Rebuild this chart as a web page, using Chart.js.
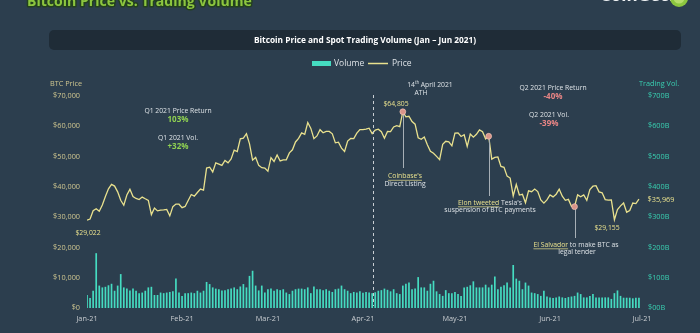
<!DOCTYPE html>
<html><head><meta charset="utf-8">
<script src="https://cdn.jsdelivr.net/npm/chart.js@4"></script>
<style>
html,body{margin:0;padding:0;background:#2c3e4e;overflow:hidden}
canvas{display:block}
</style></head>
<body>
<canvas id="c" width="700" height="333"></canvas>
<script>
// Daily BTC price (USD), 1 Jan 2021 .. 30 Jun 2021
const priceValues = [
29022,29374,32127,32782,31971,33992,36824,39371,40797,40254,38356,35566,33922,37316,39187,36825,36178,35792,36630,36070,35548,30825,33005,32067,32289,32367,32569,30432,33467,34316,34269,
33114,33538,35510,37472,36926,38144,39266,38903,46196,46481,44918,47909,47504,47105,48717,47945,49199,52149,51679,55888,56099,57539,54207,48824,49705,47093,46339,46188,
45137,49631,48378,50538,48561,48927,48912,51206,52246,54824,56008,57805,57332,61243,59302,55907,56804,58870,57858,58346,58313,57523,54529,54738,52774,51704,55137,55973,55950,57750,58917,
58918,59095,59384,57603,58758,59057,58192,56048,58323,58245,59793,60204,59893,64805,63109,63314,61572,60683,56216,55724,56473,53906,51762,51093,50050,49004,54021,55033,54824,53555,
57750,57828,56631,57200,53333,57424,56396,57356,58803,58232,55859,56704,49150,49716,49880,46760,46456,43537,42909,37002,40782,37304,37536,34771,38705,38402,39294,38436,35697,34616,35678,
37332,36684,37575,39208,36894,35551,35862,33560,33472,37345,36702,37334,35552,39097,40218,40406,38347,38053,35787,35615,35698,29155,32505,33723,34662,31637,32186,34650,34494,35969
];
// Daily spot trading volume (USD billions)
const volumeValues = [
43,33,57,181,74,68,70,75,80,57,74,112,68,64,58,64,57,49,51,57,68,70,43,43,51,49,51,53,55,97,51,
40,49,49,51,49,57,51,57,86,79,68,64,62,58,59,62,64,68,62,71,79,68,106,123,74,58,74,51,
62,64,57,62,59,62,51,46,57,62,64,64,62,68,49,71,62,62,59,62,57,53,62,64,74,62,57,49,53,51,55,
50,53,51,49,52,57,59,64,60,55,62,49,46,74,80,84,62,64,102,68,68,57,80,90,55,46,40,59,49,49,
53,46,40,68,70,75,88,68,68,68,77,68,77,104,62,70,75,84,68,142,97,90,62,84,74,51,49,46,40,57,38,
35,33,35,38,35,33,36,38,40,51,46,35,35,40,46,35,35,35,35,35,30,49,58,40,34,34,34,32,34,34
];
const monthTickDays = [0,31,59,90,120,151,181];
const monthTickLabels = ['Jan-21','Feb-21','Mar-21','Apr-21','May-21','Jun-21','Jul-21'];
const priceTicks = [0,10000,20000,30000,40000,50000,60000,70000];
const volumeTicks = [0,100,200,300,400,500,600,700];
const eventDays = [103,131,159];
const quarterDividerDay = 93.3;

const FONT = '"Open Sans", "Noto Sans", sans-serif';
const BG = '#2c3e4e';
const PRICE_C = '#e9e18e';
const VOL_C = '#45dcc1';
const AXL_C = '#cfc690';
const AXR_C = '#39cfb1';
const GREEN = '#8fd152';
const RED = '#e98585';
const TXT = '#dde2e6';

function txt(ctx, s, x, y, color, size, weight, align){
  ctx.font = (weight||'normal') + ' ' + size + 'px ' + FONT;
  ctx.fillStyle = color; ctx.textAlign = align||'center'; ctx.textBaseline = 'middle';
  ctx.fillText(s, x, y);
}

const deco = {
  id:'deco',
  beforeDraw(chart){
    const ctx = chart.ctx;
    ctx.save();
    ctx.fillStyle = BG; ctx.fillRect(0,0,chart.width,chart.height);
    // main title (partially cut at top)
    const title = 'Bitcoin Price vs. Trading Volume';
    let fs = 20;
    ctx.font = 'bold ' + fs + 'px ' + FONT;
    fs = fs * 225 / ctx.measureText(title).width;
    ctx.font = 'bold ' + fs + 'px ' + FONT;
    ctx.textAlign='left'; ctx.textBaseline='alphabetic';
    ctx.lineWidth = 3; ctx.strokeStyle = '#23401f'; ctx.lineJoin='round';
    ctx.strokeText(title, 27, 6);
    ctx.fillStyle = '#8cc63f'; ctx.fillText(title, 27, 6);
    // logo
    ctx.font = 'bold 17px ' + FONT; ctx.fillStyle = '#eef1f3';
    ctx.fillText('CoinGecko', 600, 1);
    ctx.beginPath(); ctx.arc(679,-2,9,0,Math.PI*2); ctx.fillStyle='#8cc63f'; ctx.fill();
    ctx.beginPath(); ctx.arc(679,-2,5.5,0,Math.PI*2); ctx.fillStyle='#b5dd6a'; ctx.fill();
    // header bar
    ctx.beginPath(); ctx.roundRect(49,30,632,20,5); ctx.fillStyle='#1f2c37'; ctx.fill();
    txt(ctx,'Bitcoin Price and Spot Trading Volume (Jan \u2013 Jun 2021)',365,40.5,'#ffffff',8.3,'bold');
    // legend
    ctx.fillStyle = VOL_C; ctx.fillRect(312,61,19,5);
    txt(ctx,'Volume',334,63.5,TXT,8.5,'normal','left');
    ctx.strokeStyle = PRICE_C; ctx.lineWidth = 1.5;
    ctx.beginPath(); ctx.moveTo(368,63.5); ctx.lineTo(388,63.5); ctx.stroke();
    txt(ctx,'Price',392,63.5,TXT,8.5,'normal','left');
    // axis titles
    txt(ctx,'BTC Price',66,83.5,AXL_C,7.3);
    txt(ctx,'Trading Vol.',659,84,AXR_C,7.3);
    ctx.restore();
  },
  afterDatasetsDraw(chart){
    const ctx = chart.ctx, xs = chart.scales.x, ys = chart.scales.y;
    ctx.save();
    // quarter divider
    const dx = Math.round(xs.getPixelForValue(quarterDividerDay))+0.5;
    ctx.strokeStyle = '#c9ced3'; ctx.lineWidth = 1; ctx.setLineDash([3,3]);
    ctx.beginPath(); ctx.moveTo(dx,95); ctx.lineTo(dx,306); ctx.stroke();
    ctx.setLineDash([]);
    // event stems + circles
    const stemEnd = [168,196,238];
    eventDays.forEach((d,i)=>{
      const px = xs.getPixelForValue(d), py = ys.getPixelForValue(priceValues[d]);
      ctx.strokeStyle = '#a7afb6'; ctx.lineWidth = 1;
      ctx.beginPath(); ctx.moveTo(Math.round(px)+0.5,py); ctx.lineTo(Math.round(px)+0.5,stemEnd[i]); ctx.stroke();
      ctx.beginPath(); ctx.arc(px,py,2.9,0,Math.PI*2);
      ctx.fillStyle = '#d99489'; ctx.fill();
      ctx.strokeStyle = '#f2c4b6'; ctx.lineWidth = 0.7; ctx.stroke();
    });
    // annotations
    txt(ctx,'Q1 2021 Price Return',178,111,TXT,6.8);
    txt(ctx,'103%',178,119.5,GREEN,8,'bold');
    txt(ctx,'Q1 2021 Vol.',178,138,TXT,6.8);
    txt(ctx,'+32%',178,146.5,GREEN,8,'bold');
    txt(ctx,'14',415,85,TXT,6.8,'normal','right');
    txt(ctx,'th',415,82.5,TXT,4.5,'normal','left');
    txt(ctx,' April 2021',419,85,TXT,6.8,'normal','left');
    txt(ctx,'ATH',421,93,TXT,6.8);
    txt(ctx,'$64,805',396,104,PRICE_C,6.8);
    txt(ctx,'Q2 2021 Price Return',553,88,TXT,6.8);
    txt(ctx,'-40%',553,96.5,RED,8,'bold');
    txt(ctx,'Q2 2021 Vol.',549,115,TXT,6.8);
    txt(ctx,'-39%',549,123.5,RED,8,'bold');
    const ul = (s,x,y,size)=>{
      ctx.font = 'normal '+size+'px '+FONT; const w = ctx.measureText(s).width;
      txt(ctx,s,x,y,PRICE_C,size,'normal','left');
      ctx.strokeStyle = PRICE_C; ctx.lineWidth = 0.7;
      ctx.beginPath(); ctx.moveTo(x,y+3.8); ctx.lineTo(x+w,y+3.8); ctx.stroke();
      return w;
    };
    // Coinbase
    ctx.font = 'normal 6.8px '+FONT;
    let w0 = ctx.measureText("Coinbase's").width;
    ul("Coinbase's",405-w0/2,176.5,6.8);
    txt(ctx,'Direct Listing',405,184.5,TXT,6.8);
    // Elon
    ctx.font = 'normal 6.8px '+FONT;
    let w1 = ctx.measureText('Elon tweeted').width, w2 = ctx.measureText(" Tesla's").width;
    let sx = 490-(w1+w2)/2;
    ul('Elon tweeted',sx,203,6.8);
    txt(ctx," Tesla's",sx+w1,203,TXT,6.8,'normal','left');
    txt(ctx,'suspension of BTC payments',490,210,TXT,6.8);
    // El Salvador
    ctx.font = 'normal 6.8px '+FONT;
    w1 = ctx.measureText('El Salvador').width; w2 = ctx.measureText(' to make BTC as').width;
    sx = 576-(w1+w2)/2;
    ul('El Salvador',sx,245,6.8);
    txt(ctx,' to make BTC as',sx+w1,245,TXT,6.8,'normal','left');
    txt(ctx,'legal tender',577,252.5,TXT,6.8);
    // value labels
    txt(ctx,'$29,155',607,228,PRICE_C,6.8);
    txt(ctx,'$29,022',88,233,PRICE_C,6.8);
    txt(ctx,'$35,969',661,200,PRICE_C,7.3);
    ctx.restore();
  }
};

const tickFont = {family:FONT, size:7.3};
new Chart(document.getElementById('c'), {
  type:'bar',
  data:{
    datasets:[
      {type:'line', label:'Price', data:priceValues.map((v,i)=>({x:i,y:v})), yAxisID:'y',
       borderColor:PRICE_C, borderWidth:1.3, pointRadius:0, tension:0, order:0},
      {type:'bar', label:'Volume', data:volumeValues.map((v,i)=>({x:i,y:v})), yAxisID:'y2',
       backgroundColor:VOL_C, barPercentage:0.55, categoryPercentage:1, order:1}
    ]
  },
  options:{
    responsive:false, animation:false, devicePixelRatio:1,
    layout:{padding:{top:96,left:0,right:0,bottom:0}},
    plugins:{legend:{display:false}, tooltip:{enabled:false}},
    scales:{
      x:{type:'linear', min:0, max:181, offset:false,
         grid:{display:false, drawTicks:false, offset:false}, border:{display:false},
         afterBuildTicks:s=>{ s.ticks = monthTickDays.map(v=>({value:v})); },
         afterFit:s=>{ s.height = 25; },
         ticks:{padding:7, color:'#c9cdd1', font:tickFont, autoSkip:false, maxRotation:0,
                callback:(v,i)=>monthTickLabels[i]}},
      y:{position:'left', min:0, max:70000,
         grid:{display:false, drawTicks:false}, border:{display:false},
         afterBuildTicks:s=>{ s.ticks = priceTicks.map(v=>({value:v})); },
         afterFit:s=>{ s.width = 87; },
         ticks:{padding:7, color:AXL_C, font:tickFont,
                callback:v=>'$'+Number(v).toLocaleString('en-US')}},
      y2:{position:'right', min:0, max:700,
         grid:{display:false, drawTicks:false}, border:{display:false},
         afterBuildTicks:s=>{ s.ticks = volumeTicks.map(v=>({value:v})); },
         afterFit:s=>{ s.width = 58; },
         ticks:{padding:6, color:AXR_C, font:tickFont,
                callback:v=> v===0 ? '$00B' : '$'+v+'B'}}
    }
  },
  plugins:[deco]
});
</script>
</body></html>
